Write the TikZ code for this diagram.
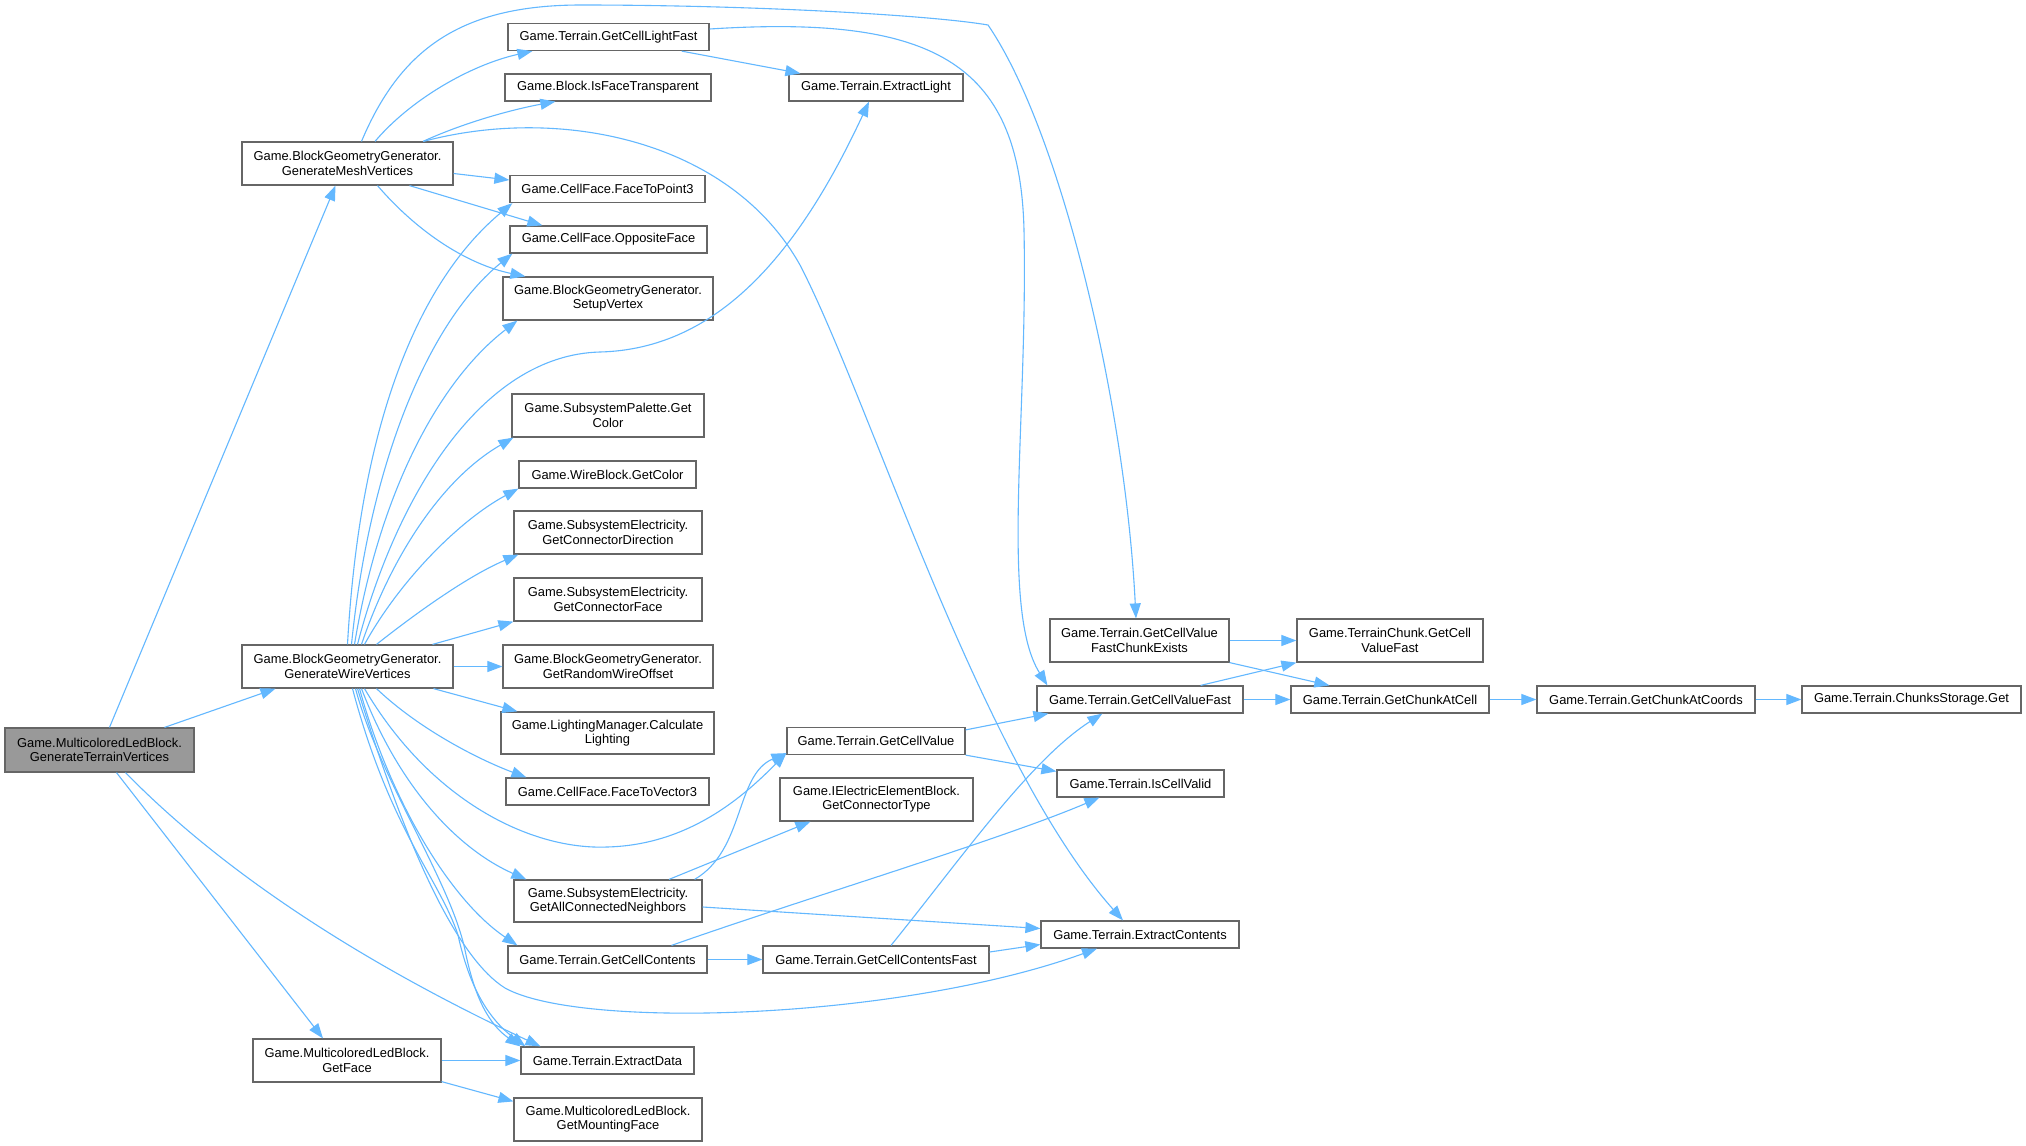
\documentclass[tikz,border=0pt]{standalone}
\usepackage{fontspec}
\setmainfont{Liberation Sans}
\usetikzlibrary{arrows.meta,calc}
\definecolor{edgecol}{RGB}{99,184,255}
\definecolor{bordercol}{RGB}{102,102,102}
\definecolor{mainfill}{RGB}{153,153,153}
\begin{document}
\begin{tikzpicture}[x=0.5pt,y=-0.5pt,
  nd/.style 2 args={draw=bordercol, fill=white, line width=0.6pt, inner sep=0pt,
    minimum width=#1*0.5pt, minimum height=#2*0.5pt, align=center,
    font=\fontsize{6.45}{7.15}\selectfont},
  e/.style={draw=edgecol, line width=0.55pt, -{Triangle[length=7.5pt,width=5.5pt]}}]
\fill[white] (0,0) rectangle (2026,1146);
\useasboundingbox (0,0) rectangle (2026,1146);
% nodes
\node[nd={189}{44}, fill=mainfill] (main) at (99.5,750) {Game.MulticoloredLedBlock.\\GenerateTerrainVertices};
\node[nd={211}{43}] (GMV) at (347.5,163.5) {Game.BlockGeometryGenerator.\\GenerateMeshVertices};
\node[nd={211}{43}] (GWV) at (347.5,666.5) {Game.BlockGeometryGenerator.\\GenerateWireVertices};
\node[nd={188}{43}] (GF) at (347,1060.5) {Game.MulticoloredLedBlock.\\GetFace};
\node[nd={201}{27}] (GCLF) at (608.5,37) {Game.Terrain.GetCellLightFast};
\node[nd={206}{27}] (IFT) at (608,87.5) {Game.Block.IsFaceTransparent};
\node[nd={195}{27}] (FTP3) at (607.5,189) {Game.CellFace.FaceToPoint3};
\node[nd={197}{27}] (OF) at (608.5,239.5) {Game.CellFace.OppositeFace};
\node[nd={210}{43}] (SV) at (608,298.5) {Game.BlockGeometryGenerator.\\SetupVertex};
\node[nd={192}{43}] (SPGC) at (608,415.5) {Game.SubsystemPalette.Get\\Color};
\node[nd={177}{27}] (WBGC) at (607.5,474.5) {Game.WireBlock.GetColor};
\node[nd={188}{43}] (GCD) at (608,532.5) {Game.SubsystemElectricity.\\GetConnectorDirection};
\node[nd={188}{43}] (GCF) at (608,599.5) {Game.SubsystemElectricity.\\GetConnectorFace};
\node[nd={210}{43}] (GRWO) at (608,666.5) {Game.BlockGeometryGenerator.\\GetRandomWireOffset};
\node[nd={213}{42}] (LMCL) at (607.5,733) {Game.LightingManager.Calculate\\Lighting};
\node[nd={203}{27}] (FTV3) at (607.5,791.5) {Game.CellFace.FaceToVector3};
\node[nd={188}{42}] (GACN) at (608,901) {Game.SubsystemElectricity.\\GetAllConnectedNeighbors};
\node[nd={199}{27}] (GCC) at (607.5,959.5) {Game.Terrain.GetCellContents};
\node[nd={173}{27}] (ED) at (607.5,1060.5) {Game.Terrain.ExtractData};
\node[nd={188}{43}] (GMF) at (608,1119.5) {Game.MulticoloredLedBlock.\\GetMountingFace};
\node[nd={174}{27}] (EL) at (876,87.5) {Game.Terrain.ExtractLight};
\node[nd={178}{27}] (GCV) at (876,741) {Game.Terrain.GetCellValue};
\node[nd={193}{43}] (GCT) at (876.5,799.5) {Game.IElectricElementBlock.\\GetConnectorType};
\node[nd={226}{27}] (GCCF) at (876,959.5) {Game.Terrain.GetCellContentsFast};
\node[nd={179}{43}] (GCVFCE) at (1139.5,640.5) {Game.Terrain.GetCellValue\\FastChunkExists};
\node[nd={206}{27}] (GCVF) at (1140,699.5) {Game.Terrain.GetCellValueFast};
\node[nd={167}{27}] (ICV) at (1140.5,783.5) {Game.Terrain.IsCellValid};
\node[nd={198}{27}] (EC) at (1140,934.5) {Game.Terrain.ExtractContents};
\node[nd={186}{43}] (TCGC) at (1390,640.5) {Game.TerrainChunk.GetCell\\ValueFast};
\node[nd={198}{27}] (GCAC) at (1390,699.5) {Game.Terrain.GetChunkAtCell};
\node[nd={218}{27}] (GCACo) at (1646,699.5) {Game.Terrain.GetChunkAtCoords};
\node[nd={219}{27}] (CSG) at (1911.5,699.5) {Game.Terrain.ChunksStorage.Get};
% edges from main
\draw[e] ($(main.north)+(10,0)$) -- ($(GMV.south)+(-12,0)$);
\draw[e] ($(main.north)+(65,0)$) -- ($(GWV.south)+(-72,0)$);
\draw[e] ($(main.south)+(17,0)$) -- ($(GF.north)+(-24,0)$);
\draw[e] ($(main.south)+(26,0)$) .. controls (250,900) and (420,990) .. ($(ED.north)+(-67,0)$);
% edges from GMV
\draw[e] ($(GMV.north)+(27.5,0)$) .. controls (410,100) and (470,65) .. ($(GCLF.south west)+(25,0)$);
\draw[e] ($(GMV.north)+(75.5,0)$) .. controls (470,120) and (520,108) .. ($(IFT.south west)+(51,0)$);
\draw[e] ($(GMV.east)+(0,10)$) -- ($(FTP3.west)+(0,-9)$);
\draw[e] ($(GMV.south)+(62,0)$) -- ($(OF.north west)+(33,0)$);
\draw[e] ($(GMV.south)+(30,0)$) .. controls (420,235) and (470,265) .. ($(SV.north west)+(23,0)$);
\draw[e] ($(GMV.north)+(14,0)$) .. controls (400,50) and (460,5) .. (581,5)
   .. controls (750,5) and (930,15) .. (988,25)
   .. controls (1060,130) and (1125,400) .. ($(GCVFCE.north)+(-3.5,0)$);
\draw[e] ($(GMV.north)+(76,0)$) .. controls (560,105) and (730,140) .. (800,265)
   .. controls (870,400) and (980,760) .. ($(EC.north)+(-17,0)$);
% edges from GCLF
\draw[e] ($(GCLF.south east)+(-28,0)$) -- ($(EL.north west)+(12,0)$);
\draw[e] ($(GCLF.east)+(0,-8)$) .. controls (930,15) and (1020,60) .. (1024,230)
   .. controls (1028,420) and (1000,610) .. ($(GCVF.north west)+(11,0)$);
% edges from GWV upward
\draw[e] ($(GWV.north)+(0,0)$) .. controls (360,420) and (420,280) .. ($(FTP3.south west)+(3,0)$);
\draw[e] ($(GWV.north)+(4,0)$) .. controls (370,460) and (430,320) .. ($(OF.south west)+(3,0)$);
\draw[e] ($(GWV.north)+(7,0)$) .. controls (380,490) and (440,380) .. ($(SV.south west)+(15,0)$);
\draw[e] ($(GWV.north)+(10,0)$) .. controls (395,500) and (480,355) .. (600,352)
   .. controls (720,349) and (800,250) .. ($(EL.south)+(-7,0)$);
\draw[e] ($(GWV.north)+(14,0)$) .. controls (390,560) and (440,480) .. ($(SPGC.south west)+(2,0)$);
\draw[e] ($(GWV.north)+(17,0)$) .. controls (400,580) and (460,520) .. (WBGC.south west);
\draw[e] ($(GWV.north)+(29,0)$) .. controls (420,610) and (470,575) .. ($(GCD.south west)+(5,0)$);
\draw[e] ($(GWV.north)+(85,0)$) -- (GCF.south west);
\draw[e] (GWV.east) -- (GRWO.west);
% edges from GWV downward
\draw[e] ($(GWV.south)+(86,0)$) -- ($(LMCL.north west)+(17,0)$);
\draw[e] ($(GWV.south)+(29,0)$) .. controls (420,730) and (480,760) .. ($(FTV3.north west)+(21,0)$);
\draw[e] ($(GWV.south)+(17,0)$) .. controls (430,800) and (530,850) .. (607,847)
   .. controls (690,845) and (745,795) .. ($(GCV.south west)+(0,-2)$);
\draw[e] ($(GWV.south)+(14,0)$) .. controls (400,790) and (460,850) .. ($(GACN.north west)+(13,0)$);
\draw[e] ($(GWV.south)+(12,0)$) .. controls (390,800) and (450,900) .. ($(GCC.north west)+(10,0)$);
\draw[e] ($(GWV.south)+(10,0)$) .. controls (410,860) and (460,960) .. (505,988)
   .. controls (580,1030) and (900,1020) .. ($(EC.south)+(-43,0)$);
\draw[e] ($(GWV.south)+(8,0)$) .. controls (380,780) and (450,880) .. (465,950)
   .. controls (475,1000) and (490,1025) .. ($(ED.north west)+(0,0)$);
\draw[e] ($(GWV.south)+(5,0)$) .. controls (390,830) and (440,880) .. (458,935)
   .. controls (470,990) and (490,1020) .. ($(ED.north west)+(5,0)$);
% GetFace
\draw[e] (GF.east) -- (ED.west);
\draw[e] ($(GF.south east)+(0,-1)$) -- ($(GMF.north west)+(0,4)$);
% GACN
\draw[e] ($(GACN.north east)+(-8,0)$) .. controls (745,850) and (735,775) .. ($(GCV.south west)+(0,-2)$);
\draw[e] ($(GACN.north)+(61,0)$) -- ($(GCT.south west)+(31,0)$);
\draw[e] ($(GACN.east)+(0,6)$) -- ($(EC.west)+(0,-6)$);
% GCC
\draw[e] (GCC.east) -- (GCCF.west);
\draw[e] ($(GCC.north)+(64,0)$) .. controls (800,900) and (1000,840) .. ($(ICV.south west)+(43,0)$);
% GCCF
\draw[e] ($(GCCF.north)+(15,0)$) .. controls (960,860) and (1030,760) .. ($(GCVF.south west)+(66,0)$);
\draw[e] ($(GCCF.east)+(0,-7.5)$) -- ($(EC.west)+(0,10)$);
% GCV
\draw[e] ($(GCV.north east)+(0,3)$) -- ($(GCVF.south west)+(12,0)$);
\draw[e] (GCV.south east) -- ($(ICV.north west)+(0,2)$);
% right part
\draw[e] (GCVFCE.east) -- (TCGC.west);
\draw[e] (GCVFCE.south east) -- ($(GCAC.north west)+(39,0)$);
\draw[e] ($(GCVF.north east)+(-43,0)$) -- (TCGC.south west);
\draw[e] (GCVF.east) -- (GCAC.west);
\draw[e] (GCAC.east) -- (GCACo.west);
\draw[e] (GCACo.east) -- (CSG.west);
\end{tikzpicture}
\end{document}
